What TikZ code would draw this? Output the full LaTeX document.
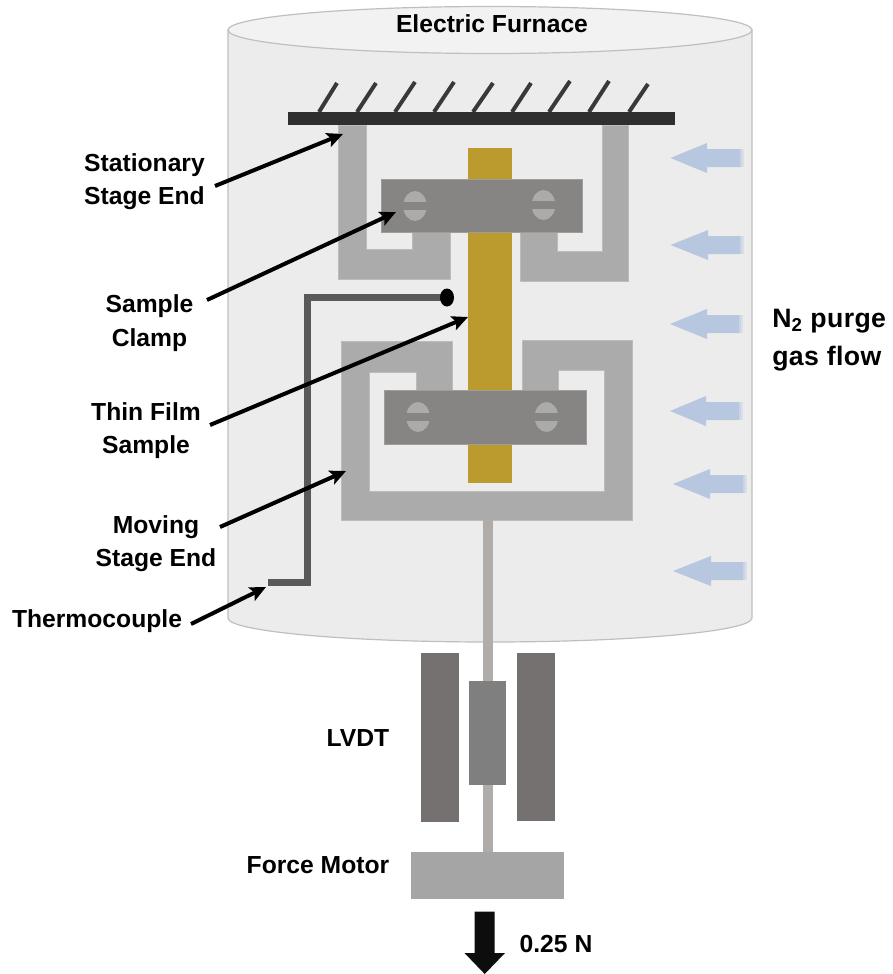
\documentclass[tikz,border=0pt]{standalone}
\usepackage{fontspec}
\setmainfont{Liberation Sans}
\usetikzlibrary{arrows.meta}
\definecolor{furnace}{HTML}{ECECEC}
\definecolor{lid}{HTML}{F2F2F2}
\definecolor{rim}{HTML}{BFBFBF}
\definecolor{beam}{HTML}{2F2F2F}
\definecolor{stage}{HTML}{ABABAB}
\definecolor{clampc}{HTML}{868583}
\definecolor{film}{HTML}{BB9A2E}
\definecolor{tc}{HTML}{595959}
\definecolor{gas}{HTML}{B7C7DF}
\definecolor{coil}{HTML}{757170}
\definecolor{corec}{HTML}{7F7F7F}
\definecolor{motor}{HTML}{A5A5A5}
\definecolor{rod}{HTML}{B0ACAA}
\definecolor{blk}{HTML}{0D0D0D}
\tikzset{
  rimline/.style={draw=rim,line width=0.9pt},
  stagebody/.style={fill=stage,draw=stage!80!white,line width=0.4pt},
  clampbody/.style={fill=clampc,draw=clampc!80!white,line width=0.4pt},
  hatchline/.style={draw=beam!95!white,line width=3pt},
  pointer/.style={draw=black,line width=3pt,-{Stealth[length=12pt,width=11pt,inset=2.5pt]}},
  lbl/.style={font=\bfseries\fontsize{18.5}{25}\selectfont,text=black,inner sep=0pt,align=center},
  lblL/.style={font=\bfseries\fontsize{20}{28}\selectfont\addfontfeatures{LetterSpace=1.5},text=black,inner sep=0pt,align=left,anchor=west}
}
\begin{document}
\begin{tikzpicture}[x=0.75pt,y=-0.75pt]
\useasboundingbox (0,0) rectangle (892,974);
% furnace
\path[fill=furnace,rimline] (228,30) -- (228,618) arc[start angle=180,end angle=0,x radius=262,y radius=24] -- (752,30) -- cycle;
\path[fill=lid,rimline] (490,30) ellipse[x radius=262,y radius=23.5];
% hatching and fixed beam
\foreach \a/\b/\c in {319/337/83,357/376/83,395/415/82,434/454/82,473/493/83,512/531/83,549/570/81,589/609/81,629/648/84}
  \draw[hatchline] (\a,112) -- (\b,\c);
\fill[beam] (288,111.5) rectangle (675,125);
% stationary stage
\path[stagebody] (338,125) -- (366,125) -- (366,249.5) -- (412,249.5) -- (412,232) -- (450,232) -- (450,279.5) -- (338,279.5) -- cycle;
\path[stagebody] (628,125) -- (602,125) -- (602,251.5) -- (557,251.5) -- (557,232) -- (520,232) -- (520,281) -- (628,281) -- cycle;
% moving stage
\path[stagebody] (341,341) -- (452,341) -- (452,390) -- (416,390) -- (416,372) -- (369,372) -- (369,491) -- (604,491) -- (604,370) -- (558,370) -- (558,390) -- (522,390) -- (522,340.5) -- (632,340.5) -- (632,520) -- (341,520) -- cycle;
% sample
\fill[film] (468,148) rectangle (512,483);
% clamps
\path[clampbody] (381,179) rectangle (582,232);
\path[clampbody] (384,390) rectangle (586,444);
\foreach \x/\y in {415/206,543.5/205,418/417,546.5/417}{
  \fill[stage] (\x,\y) ellipse[x radius=11.8,y radius=15];
  \fill[clampc] (\x-13,\y-4) rectangle (\x+13,\y+4);
}
% thermocouple
\draw[tc,line width=5.2pt] (268,582.5) -- (307.5,582.5) -- (307.5,297.5) -- (447,297.5);
\fill[black] (447,297.5) ellipse[x radius=7,y radius=9];
% gas arrows
\foreach \t/\b/\e/\y in {670.5/707/744/158,670.5/708/744/245,670/707/743/324,670/706/743/411,673/710/747/484,673/711/747/571}{
  \fill[gas] (\t,\y) -- (\b,\y-15) -- (\b,\y-9) -- (\e-4,\y-9) -- (\e-4,\y+9) -- (\b,\y+9) -- (\b,\y+15) -- cycle;
  \fill[gas,opacity=.6] (\e-4,\y-9) rectangle (\e-2,\y+9);
  \fill[gas,opacity=.35] (\e-2,\y-9) rectangle (\e,\y+9);
}
% rod, LVDT, force motor
\fill[rod] (483.3,520) rectangle (492.7,853);
\fill[coil] (420.7,652.7) rectangle (459,822);
\fill[coil] (516.7,652.7) rectangle (555,821);
\fill[corec] (468.7,681) rectangle (505.5,785);
\fill[motor] (411,852) rectangle (564,899);
\fill[blk] (474.7,911.5) -- (494.7,911.5) -- (494.7,953) -- (505,953) -- (484.7,974) -- (464.5,953) -- (474.7,953) -- cycle;
% labels
\node[lbl] (furn) at (492,24) {Electric Furnace};
\node[lbl] (stat) at (144.5,181.5) {Stationary\\Stage End};
\node[lbl] (clamp) at (149.5,323) {Sample\\Clamp};
\node[lbl] (thin) at (146,430.5) {Thin Film\\Sample};
\node[lbl] (mov) at (156,544) {Moving\\Stage End};
\node[lbl] (thermo) at (97,621) {Thermocouple};
\node[lbl] (lvdt) at (358,738) {LVDT};
\node[lbl] (fm) at (318,865) {Force Motor};
\node[lbl] (force) at (556,944) {0.25 N};
\node[lblL] (purge) at (772,340) {N\textsubscript{2} purge\\gas flow};
% pointers
\coordinate (s1) at (215,186); \coordinate (e1) at (343,134);
\coordinate (s2) at (207,300); \coordinate (e2) at (396,212);
\coordinate (s3) at (210,425); \coordinate (e3) at (468,317);
\coordinate (s4) at (220,527); \coordinate (e4) at (346,471);
\coordinate (s5) at (191,624); \coordinate (e5) at (266,587);
\foreach \i in {1,...,5}
  \draw[pointer] (s\i) -- (e\i);
\end{tikzpicture}
\end{document}
